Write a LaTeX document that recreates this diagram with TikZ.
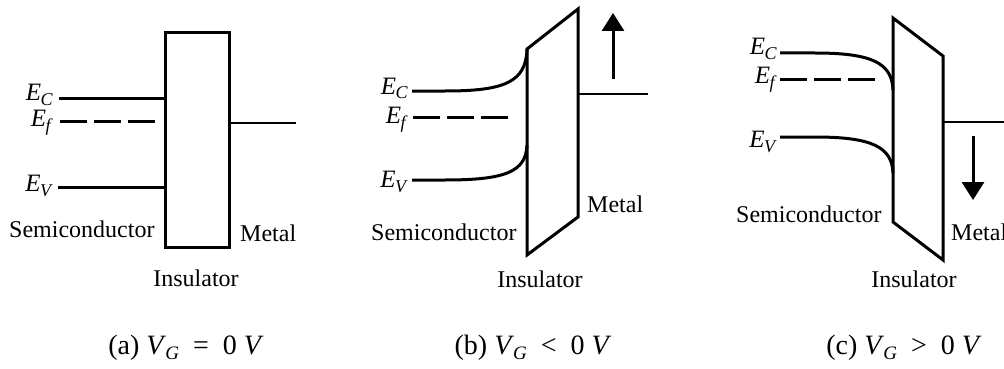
\documentclass[tikz,border=0pt]{standalone}
\usepackage{fontspec}
\setmainfont{Liberation Serif}
\usetikzlibrary{arrows.meta}
\newcommand{\lvsym}[2]{\textit{#1}\kern-0.5pt\raisebox{-5pt}{\fontsize{18}{18}\selectfont\textit{#2}}}
\newcommand{\vgsym}{\textit{V}\kern-1pt\raisebox{-5.5pt}{\fontsize{19}{19}\selectfont\textit{G}}}
\begin{document}
\begin{tikzpicture}[x=1pt,y=-1pt,
  band/.style={line width=3pt},
  ins/.style={line width=3pt,line join=miter},
  metalline/.style={line width=2pt},
  fermi/.style={line width=3pt,dash pattern=on 27pt off 7pt},
  lbl/.style={inner sep=0pt,anchor=base east,font=\fontsize{25}{29}\selectfont},
  txt/.style={inner sep=0pt,font=\fontsize{24}{28}\selectfont},
  captxt/.style={inner sep=0pt,anchor=base,font=\fontsize{28}{32}\selectfont},
  bigarrow/.style={line width=3pt,-{Triangle[width=22pt,length=18pt]}}]
\useasboundingbox (0,0) rectangle (1004,369);

% ---------- (a) ----------
\draw[ins] (165,33) rectangle (229,247);
\coordinate (aC0) at (59,98);  \coordinate (aC1) at (165,98);
\coordinate (aF0) at (60,121); \coordinate (aF1) at (157,121);
\coordinate (aV0) at (58,187); \coordinate (aV1) at (165,187);
\coordinate (aM0) at (229,123); \coordinate (aM1) at (296,123);
\draw[band] (aC0) -- (aC1);
\draw[fermi] (aF0) -- (aF1);
\draw[band] (aV0) -- (aV1);
\draw[metalline] (aM0) -- (aM1);
\node[lbl] (aEC) at (53,100) {\lvsym{E}{C}};
\node[lbl] (aEF) at (53,126) {\lvsym{E}{f}};
\node[lbl] (aEV) at (53,191) {\lvsym{E}{V}};
\node[txt,anchor=base west] (aS) at (9,237) {Semiconductor};
\node[txt,anchor=base west] (aMt) at (240,241) {Metal};
\node[txt,anchor=base] (aI) at (196,286) {Insulator};
\node[captxt] (acap) at (186,354) {(a) \vgsym\enspace=\enspace0 \textit{V}};

% ---------- (b) ----------
\draw[ins] (527,49) -- (578,9) -- (578,217) -- (527,255) -- cycle;
\coordinate (bC0) at (412,91); \coordinate (bC1) at (527,49);
\coordinate (bF0) at (413,117); \coordinate (bF1) at (512,117);
\coordinate (bV0) at (412,180); \coordinate (bV1) at (527,145);
\coordinate (bM0) at (578,94); \coordinate (bM1) at (648,94);
\coordinate (bA0) at (613,79); \coordinate (bA1) at (613,13);
\draw[band] (bC0) -- (445,91) .. controls (505,91) and (526,82) .. (bC1);
\draw[fermi] (bF0) -- (bF1);
\draw[band] (bV0) -- (445,180) .. controls (505,180) and (526,172) .. (bV1);
\draw[metalline] (bM0) -- (bM1);
\draw[bigarrow] (bA0) -- (bA1);
\node[lbl] (bEC) at (408,94) {\lvsym{E}{C}};
\node[lbl] (bEF) at (408,123) {\lvsym{E}{f}};
\node[lbl] (bEV) at (408,187) {\lvsym{E}{V}};
\node[txt,anchor=base west] (bS) at (371,240) {Semiconductor};
\node[txt,anchor=base west] (bMt) at (587,212) {Metal};
\node[txt,anchor=base] (bI) at (540,287) {Insulator};
\node[captxt] (bcap) at (533,354) {(b) \vgsym\enspace<\enspace0 \textit{V}};

% ---------- (c) ----------
\draw[ins] (893,18) -- (943,56) -- (943,260) -- (893,222) -- cycle;
\coordinate (cC0) at (780,53); \coordinate (cC1) at (893,90);
\coordinate (cF0) at (780,80); \coordinate (cF1) at (880,80);
\coordinate (cV0) at (780,137); \coordinate (cV1) at (893,173);
\coordinate (cM0) at (943,122); \coordinate (cM1) at (1004,122);
\coordinate (cA0) at (973,136); \coordinate (cA1) at (973,200);
\draw[band] (cC0) -- (815,53) .. controls (872,53) and (892,63) .. (cC1);
\draw[fermi] (cF0) -- (cF1);
\draw[band] (cV0) -- (815,137) .. controls (872,137) and (892,147) .. (cV1);
\draw[metalline] (cM0) -- (cM1);
\draw[bigarrow] (cA0) -- (cA1);
\node[lbl] (cEC) at (777,55) {\lvsym{E}{C}};
\node[lbl] (cEF) at (777,84) {\lvsym{E}{f}};
\node[lbl] (cEV) at (777,147) {\lvsym{E}{V}};
\node[txt,anchor=base west] (cS) at (736,222) {Semiconductor};
\node[txt,anchor=base west] (cMt) at (951,240) {Metal};
\node[txt,anchor=base] (cI) at (914,287) {Insulator};
\node[captxt] (ccap) at (904,354) {(c) \vgsym\enspace>\enspace0 \textit{V}};
\end{tikzpicture}
\end{document}
